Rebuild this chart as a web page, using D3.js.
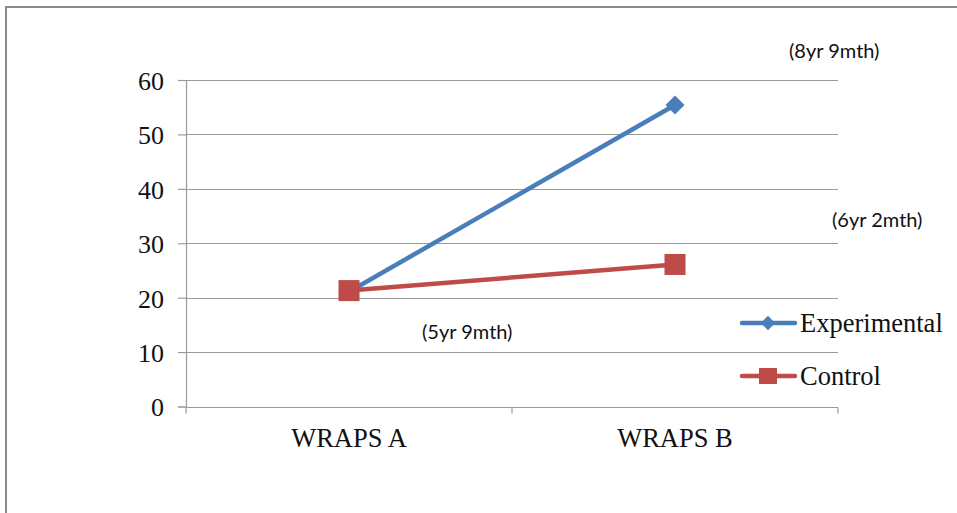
<!DOCTYPE html>
<html>
<head>
<meta charset="utf-8">
<script src="https://cdn.jsdelivr.net/npm/d3@7"></script>
<style>
  html, body { margin: 0; padding: 0; background: #fff; }
  svg { display: block; }
</style>
</head>
<body>
<svg id="chart" width="957" height="513"></svg>
<script>
// Reading-age scores for the two test administrations
const categories = ["WRAPS A", "WRAPS B"];
const experimental = [21.1, 55.4];
const control = [21.3, 26.1];
const yTicks = [0, 10, 20, 30, 40, 50, 60];
const seriesNames = ["Experimental", "Control"];
// Reading-age notes written beside the points
const notes = ["(8yr 9mth)", "(6yr 2mth)", "(5yr 9mth)"];

const blue = "#4a7ebb";
const red = "#be4b48";
const gridColor = "#9a9a9a";
const serif = "'Liberation Serif', 'Times New Roman', serif";

const svg = d3.select("#chart");

// outer frame (top and left edges)
svg.append("path")
  .attr("d", "M6,513 V7 H957")
  .attr("fill", "none")
  .attr("stroke", "#8a8a8a")
  .attr("stroke-width", 2);

const plotLeft = 186, plotRight = 838, plotTop = 80, plotBottom = 406.5;

const x = d3.scaleBand().domain(categories).range([plotLeft, plotRight]).padding(0);
const y = d3.scaleLinear().domain([0, 60]).range([plotBottom, plotTop]);

// horizontal gridlines
svg.append("g")
  .selectAll("line")
  .data(yTicks.filter(d => d > 0))
  .join("line")
  .attr("x1", plotLeft).attr("x2", plotRight)
  .attr("y1", d => Math.round(y(d)) + 0.5)
  .attr("y2", d => Math.round(y(d)) + 0.5)
  .attr("stroke", gridColor)
  .attr("stroke-width", 1.2);

// y axis
const yAxis = svg.append("g")
  .attr("transform", `translate(${plotLeft},0)`)
  .call(d3.axisLeft(y).tickValues(yTicks).tickSize(8).tickPadding(14));
yAxis.select(".domain").attr("stroke", gridColor).attr("stroke-width", 1.2);
yAxis.selectAll(".tick line").attr("stroke", gridColor).attr("stroke-width", 1.2);
yAxis.selectAll(".tick text")
  .attr("font-family", serif)
  .attr("font-size", 26)
  .attr("fill", "#111")
  .attr("dy", "0.36em");

// x axis with ticks at category boundaries
const xAxisG = svg.append("g")
  .attr("transform", `translate(0,${Math.round(plotBottom) + 0.5})`);
xAxisG.append("line")
  .attr("x1", plotLeft).attr("x2", plotRight)
  .attr("stroke", gridColor).attr("stroke-width", 1.2);
const bounds = [plotLeft, ...categories.map(c => x(c) + x.bandwidth())];
xAxisG.selectAll(".xtick")
  .data(bounds)
  .join("line")
  .attr("class", "xtick")
  .attr("x1", d => d).attr("x2", d => d)
  .attr("y1", 0).attr("y2", 6)
  .attr("stroke", gridColor).attr("stroke-width", 1.2);
xAxisG.selectAll(".xlabel")
  .data(categories)
  .join("text")
  .attr("class", "xlabel")
  .attr("x", d => x(d) + x.bandwidth() / 2)
  .attr("y", 39)
  .attr("text-anchor", "middle")
  .attr("font-family", serif)
  .attr("font-size", 26.5)
  .attr("fill", "#111")
  .text(d => d);

const cx = c => x(c) + x.bandwidth() / 2;
const line = d3.line().x((d, i) => cx(categories[i])).y(d => y(d));

// Experimental series
svg.append("path")
  .datum(experimental)
  .attr("d", line)
  .attr("fill", "none")
  .attr("stroke", blue)
  .attr("stroke-width", 4.5)
  .attr("stroke-linecap", "round");
svg.append("g").selectAll("path")
  .data(experimental)
  .join("path")
  .attr("d", d3.symbol().type(d3.symbolDiamond2).size(230))
  .attr("transform", (d, i) => `translate(${cx(categories[i])},${y(d)})`)
  .attr("fill", blue);

// Control series
svg.append("path")
  .datum(control)
  .attr("d", line)
  .attr("fill", "none")
  .attr("stroke", red)
  .attr("stroke-width", 4.5)
  .attr("stroke-linecap", "round");
svg.append("g").selectAll("rect")
  .data(control)
  .join("rect")
  .attr("x", (d, i) => cx(categories[i]) - 10.5)
  .attr("y", d => y(d) - 10.5)
  .attr("width", 21).attr("height", 21)
  .attr("fill", red);

// notes
const notePos = [[789, 58], [832, 227], [422, 339]];
svg.append("g").selectAll("text")
  .data(notes)
  .join("text")
  .attr("x", (d, i) => notePos[i][0])
  .attr("y", (d, i) => notePos[i][1])
  .attr("font-family", "Lato, 'Open Sans', sans-serif")
  .attr("font-size", 20)
  .attr("fill", "#111")
  .text(d => d);

// legend
const legend = svg.append("g");
const legendY = [323, 376];
const legendColors = [blue, red];
seriesNames.forEach((name, i) => {
  const g = legend.append("g").attr("transform", `translate(0,${legendY[i]})`);
  g.append("line")
    .attr("x1", 742).attr("x2", 795)
    .attr("stroke", legendColors[i]).attr("stroke-width", 4.5)
    .attr("stroke-linecap", "round");
  if (i === 0) {
    g.append("path")
      .attr("d", d3.symbol().type(d3.symbolDiamond2).size(130))
      .attr("transform", "translate(768,0)")
      .attr("fill", legendColors[i]);
  } else {
    g.append("rect")
      .attr("x", 759).attr("y", -8).attr("width", 18).attr("height", 16)
      .attr("fill", legendColors[i]);
  }
  g.append("text")
    .attr("x", 800).attr("y", 9)
    .attr("font-family", serif)
    .attr("font-size", 26.5)
    .attr("fill", "#111")
    .text(name);
});
</script>
</body>
</html>
